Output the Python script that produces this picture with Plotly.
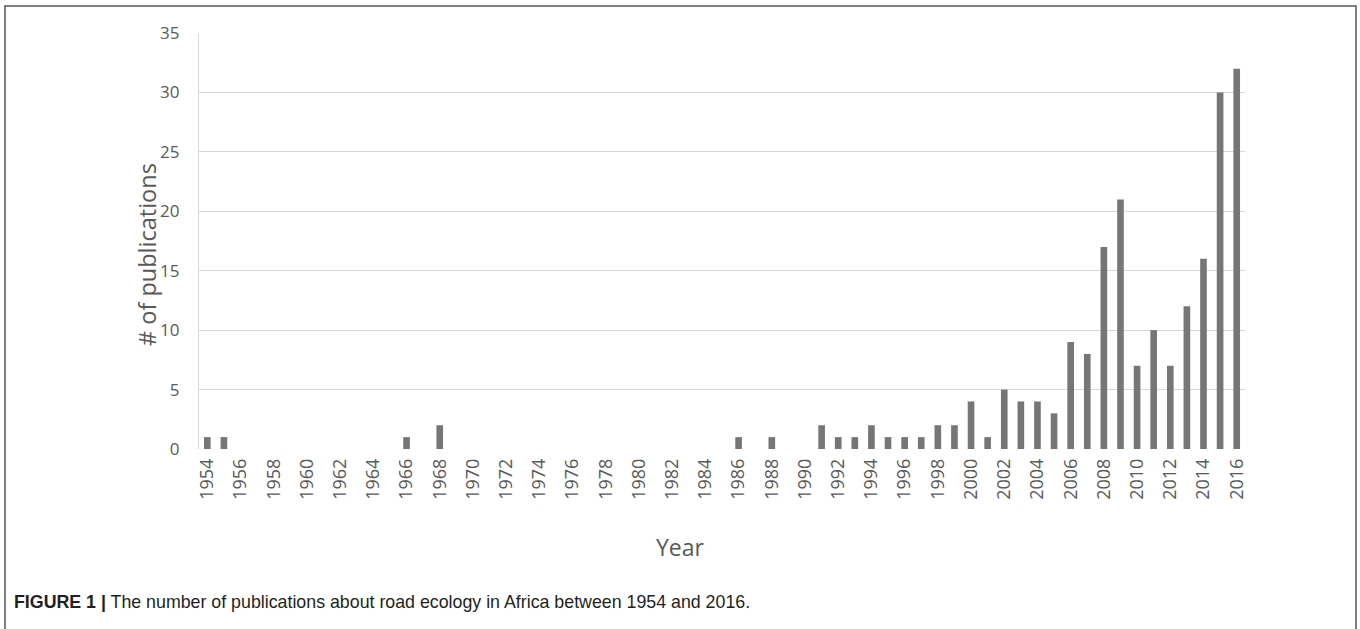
import plotly.graph_objects as go

years = list(range(1954, 2017))
counts = [1, 1, 0, 0, 0, 0, 0, 0, 0, 0, 0, 0, 1, 0, 2, 0, 0, 0, 0, 0,
          0, 0, 0, 0, 0, 0, 0, 0, 0, 0, 0, 0, 1, 0, 1, 0, 0, 2, 1, 1,
          2, 1, 1, 1, 2, 2, 4, 1, 5, 4, 4, 3, 9, 8, 17, 21, 7, 10, 7, 12,
          16, 30, 32]
y_ticks = [0, 5, 10, 15, 20, 25, 30, 35]
x_title = "Year"
y_title = "# of publications"
caption_bold = "FIGURE 1 |"
caption_text = " The number of publications about road ecology in Africa between 1954 and 2016."

W, H = 1360, 629
L, R, T, B = 199, 1245, 33, 449
pw, ph = R - L, B - T

def px(x):
    return (x - L) / pw

def py(y):
    return (B - y) / ph

fig = go.Figure()
fig.add_trace(go.Bar(x=years, y=counts, marker_color="#767676",
                     marker_line_width=0, hoverinfo="x+y"))

grey = "#595959"
fig.update_layout(
    width=W, height=H,
    margin=dict(l=L, r=W - R, t=T, b=H - B, pad=0),
    paper_bgcolor="white", plot_bgcolor="white",
    bargap=0.6, showlegend=False,
    font=dict(family="Open Sans", color=grey),
    xaxis=dict(range=[1953.5, 2016.5], tickmode="array",
               tickvals=years[::2], ticktext=[str(v) for v in years[::2]],
               tickangle=-90, showgrid=False, zeroline=False, showline=False,
               ticks="", tickfont=dict(size=18, color=grey),
               ticklabelstandoff=5),
    yaxis=dict(range=[0, 35], tickvals=y_ticks, showgrid=True,
               gridcolor="#d9d9d9", gridwidth=1.3, zeroline=False,
               showline=True, linecolor="#d9d9d9", linewidth=1.3,
               ticks="", tickfont=dict(size=17, color=grey),
               ticklabelstandoff=15),
)

fig.add_annotation(text=x_title, xref="paper", yref="paper",
                   x=px(680), y=py(547), showarrow=False,
                   xanchor="center", yanchor="middle",
                   font=dict(size=23, color=grey, family="Open Sans"))
fig.add_annotation(text=y_title, xref="paper", yref="paper",
                   x=px(147), y=py(255), showarrow=False, textangle=-90,
                   xanchor="center", yanchor="middle",
                   font=dict(size=23.5, color=grey, family="Open Sans"))
fig.add_annotation(text="<b>" + caption_bold + "</b>" + caption_text,
                   xref="paper", yref="paper", x=px(12), y=py(602),
                   showarrow=False, xanchor="left", yanchor="middle",
                   font=dict(size=17.8, color="#231f20",
                             family="Liberation Sans"))

fig.add_shape(type="rect", xref="paper", yref="paper",
              x0=px(5), x1=px(1356), y0=py(660), y1=py(6),
              line=dict(color="#555555", width=1.5), fillcolor="rgba(0,0,0,0)",
              layer="below")

fig.write_html("out.html",
               config={"displayModeBar": False},
               post_script="document.body.style.margin='0px';"
                           "document.body.style.padding='0px';"
                           "document.body.style.overflow='hidden';")
